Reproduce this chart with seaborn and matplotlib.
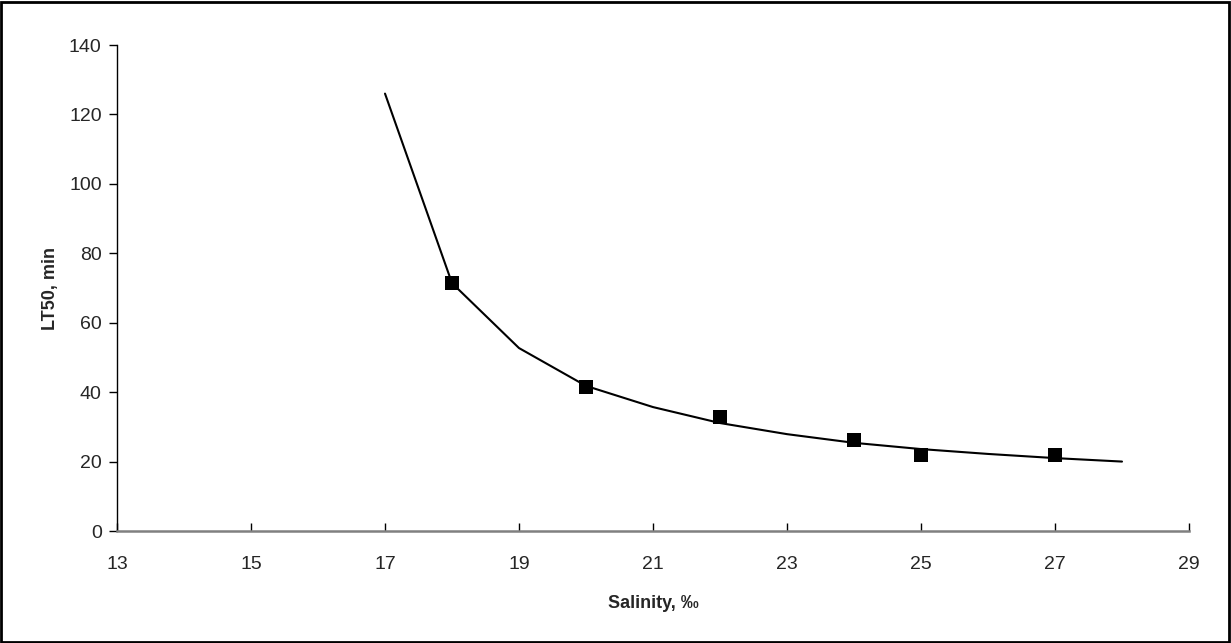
import pandas as pd
import matplotlib.pyplot as plt
import seaborn as sns
from matplotlib.patches import Rectangle

# fitted curve
fit_salinity = [17, 18, 19, 20, 21, 22, 23, 24, 25, 26, 27, 28]
fit_lt50 = [126.0, 71.4, 52.7, 41.8, 35.7, 31.1, 27.9, 25.4, 23.6, 22.2, 21.0, 20.0]

# observed points
obs_salinity = [18, 20, 22, 24, 25, 27]
obs_lt50 = [71.4, 41.6, 32.8, 26.2, 21.9, 21.9]

fit_df = pd.DataFrame({"salinity": fit_salinity, "lt50": fit_lt50})
obs_df = pd.DataFrame({"salinity": obs_salinity, "lt50": obs_lt50})

sns.set_style("white")
plt.rcParams["font.family"] = ["Liberation Sans", "DejaVu Sans"]

fig = plt.figure(figsize=(12.31, 6.43), dpi=100)
ax = fig.add_axes([117 / 1231, 1 - 531 / 643, (1189 - 117) / 1231, (531 - 45) / 643])

sns.lineplot(data=fit_df, x="salinity", y="lt50", color="black", linewidth=1.5, ax=ax)
sns.scatterplot(data=obs_df, x="salinity", y="lt50", marker="s", color="black",
                s=110, edgecolor="black", linewidth=0, ax=ax, zorder=3)

ax.set_xlim(13, 29)
ax.set_ylim(0, 140)
ax.set_xticks(range(13, 30, 2))
ax.set_yticks(range(0, 141, 20))
ax.tick_params(axis="x", bottom=True, direction="in", length=6, width=1,
               labelsize=14, pad=18, color="black")
ax.tick_params(axis="y", left=True, direction="out", length=6, width=1,
               labelsize=14, pad=5, color="black")

for side in ["top", "right"]:
    ax.spines[side].set_visible(False)
ax.spines["left"].set_color("black")
ax.spines["left"].set_linewidth(1)
ax.spines["bottom"].set_color("#808080")
ax.spines["bottom"].set_linewidth(1.8)

ax.set_xlabel("Salinity, ‰", fontsize=13, fontweight="bold", labelpad=16)
ax.set_ylabel("LT50, min", fontsize=13, fontweight="bold", labelpad=7)

fig.add_artist(Rectangle((0.001, 0.002), 0.997, 0.995, transform=fig.transFigure,
                         fill=False, edgecolor="black", linewidth=2))

plt.savefig("out.png", dpi=100)
plt.close()
